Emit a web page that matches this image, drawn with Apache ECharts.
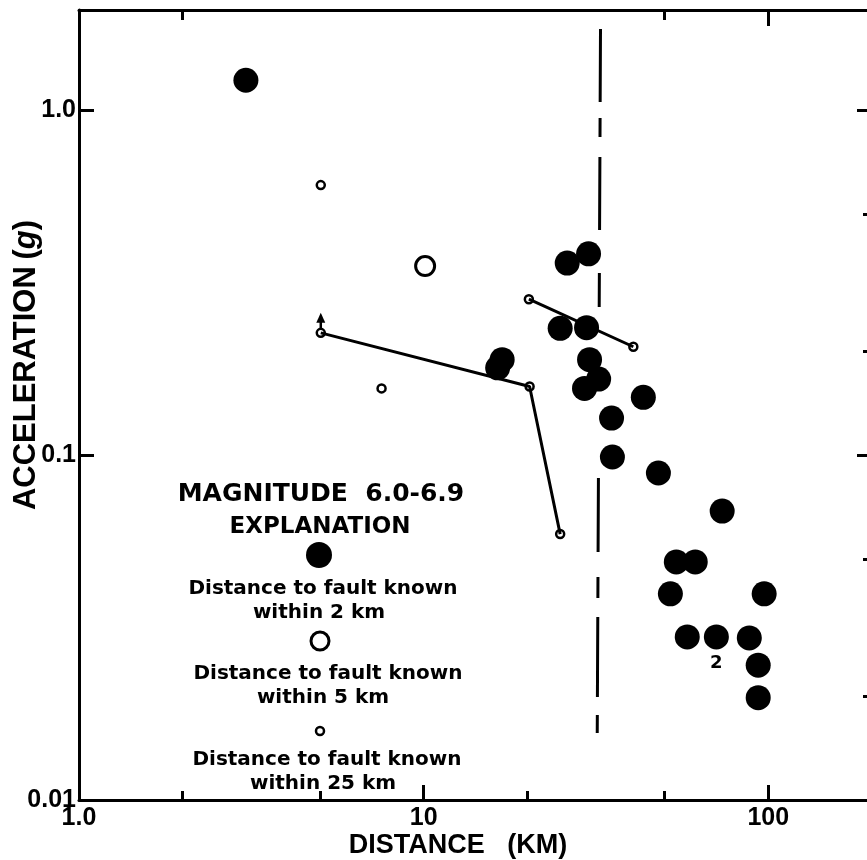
<!DOCTYPE html>
<html lang="en">
<head>
<meta charset="UTF-8">
<title>Acceleration vs distance, magnitude 6.0-6.9</title>
<script src="https://cdn.jsdelivr.net/npm/echarts@6/dist/echarts.min.js"></script>
<style>
  html, body { margin: 0; padding: 0; overflow: hidden; background: #fff; }
  #chart { width: 880px; height: 860px; }
</style>
</head>
<body>
<div id="chart"></div>
<script>
// distance to fault known within 2 km (large filled dots)
var near2Dist = [3.05, 26.1, 30.1, 24.9, 29.7, 16.4, 16.9, 30.3, 32.2, 29.3, 43.4, 35.1,
                 35.3, 48.0, 73.5, 54.1, 61.4, 52.0, 97.3, 58.2, 70.7, 88.1, 93.5, 93.5];
var near2Acc  = [1.22, 0.360, 0.383, 0.233, 0.234, 0.179, 0.189, 0.189, 0.166, 0.156, 0.147, 0.128,
                 0.0987, 0.0887, 0.0688, 0.0490, 0.0490, 0.0396, 0.0396, 0.0297, 0.0297, 0.0295, 0.0246, 0.0198];
var near2Note = ['', '', '', '', '', '', '', '', '', '', '', '',
                 '', '', '', '', '', '', '', '', '2', '', '', ''];
// within 5 km (large open circle)
var near5Dist = [10.1];
var near5Acc  = [0.353];
// within 25 km (small open circles)
var near25Dist = [5.03, 5.03, 7.55, 20.3, 24.9, 20.2, 40.6];
var near25Acc  = [0.606, 0.226, 0.156, 0.158, 0.059, 0.283, 0.206];
// connecting lines
var trendADist = [5.03, 20.3, 24.9];
var trendAAcc  = [0.226, 0.158, 0.059];
var trendBDist = [20.2, 40.6];
var trendBAcc  = [0.283, 0.206];
// arrow above the 5 km point (stem, then head)
var arrowDist = [5.03, 5.03];
var arrowAcc  = [0.233, 0.244];
var arrowHeadDist = [5.03];
var arrowHeadAcc  = [0.250];
// dashed reference line
var refDist = [32.6, 31.9];
var refAcc  = [1.717, 0.01564];
// ticks
var xTickValues = [1, 10, 100];
var xTickLabels = ['1.0', '10', '100'];
var xMinorTicks = [2, 5, 20, 50];
var xTopMinor = [2, 50];
var xTopMajor = [100];
var yTickValues = [0.01, 0.1, 1];
var yTickLabels = ['0.01', '0.1', '1.0'];
var yMinorTicks = [0.02, 0.05, 0.2, 0.5];

function zip(xs, ys) {
  return xs.map(function (x, i) { return [x, ys[i]]; });
}
function pickLabel(values, labels, v) {
  for (var i = 0; i < values.length; i++) {
    if (Math.abs(Math.log10(v) - Math.log10(values[i])) < 0.01) return labels[i];
  }
  return '';
}

var chart = echarts.init(document.getElementById('chart'));
var ink = '#000';
var X_MIN = 1, X_MAX = 200, Y_MIN = 0.01, Y_MAX = 1.95;

function xAx(pos, ticks, len, showLine, labels) {
  return {
    type: 'log', logBase: 10, min: X_MIN, max: X_MAX, position: pos, gridIndex: 0,
    axisLine: { show: showLine, lineStyle: { color: ink, width: 3 } },
    axisTick: { show: true, inside: true, length: len, customValues: ticks, lineStyle: { color: ink, width: 3 } },
    axisLabel: labels ? {
      show: true, customValues: xTickValues, margin: 6, color: ink,
      fontFamily: 'Liberation Sans', fontWeight: 'bold', fontSize: 25,
      formatter: function (v) { return pickLabel(xTickValues, xTickLabels, v); }
    } : { show: false },
    splitLine: { show: false }, minorTick: { show: false }
  };
}
function yAx(pos, ticks, len, showLine, labels) {
  return {
    type: 'log', logBase: 10, min: Y_MIN, max: Y_MAX, position: pos, gridIndex: 0,
    axisLine: { show: showLine, lineStyle: { color: ink, width: 3 } },
    axisTick: { show: true, inside: true, length: len, customValues: ticks, lineStyle: { color: ink, width: 3 } },
    axisLabel: labels ? {
      show: true, customValues: yTickValues, margin: 3, color: ink,
      fontFamily: 'Liberation Sans', fontWeight: 'bold', fontSize: 25,
      formatter: function (v) { return pickLabel(yTickValues, yTickLabels, v); }
    } : { show: false },
    splitLine: { show: false }, minorTick: { show: false }
  };
}

var near2Data = near2Dist.map(function (d, i) {
  var item = { value: [d, near2Acc[i]] };
  if (near2Note[i]) {
    item.label = { show: true, formatter: near2Note[i], position: 'bottom', distance: 5,
      color: ink, fontFamily: 'DejaVu Sans', fontWeight: 'bold', fontSize: 18 };
  }
  return item;
});

var legendFont = 'bold 20px "DejaVu Sans"';
function legendText(x, y, t, font) {
  return { type: 'text', x: x, y: y, style: { text: t, font: font || legendFont, fill: ink, align: 'center', verticalAlign: 'middle' } };
}

chart.setOption({
  animation: false,
  backgroundColor: '#fff',
  grid: { left: 79, right: 8, top: 10, bottom: 60, containLabel: false },
  xAxis: [
    xAx('bottom', xTickValues, 15, true, true),
    xAx('bottom', xMinorTicks, 9, false, false),
    xAx('top', xTopMajor, 16, true, false),
    xAx('top', xTopMinor, 10, false, false)
  ],
  yAxis: [
    yAx('left', yTickValues, 15, true, true),
    yAx('right', yTickValues, 15, true, false),
    yAx('right', yMinorTicks, 9, false, false)
  ],
  series: [
    {
      type: 'line', data: zip(refDist, refAcc), symbol: 'none', silent: true,
      lineStyle: { color: ink, width: 3, type: [73, 16, 19, 20, 73, 43, 34, 171, 74, 25, 21, 19, 80, 18, 18, 200] }
    },
    { type: 'line', data: zip(trendADist, trendAAcc), symbol: 'none', lineStyle: { color: ink, width: 3 } },
    { type: 'line', data: zip(trendBDist, trendBAcc), symbol: 'none', lineStyle: { color: ink, width: 3 } },
    { type: 'line', data: zip(arrowDist, arrowAcc), symbol: 'none', lineStyle: { color: ink, width: 2.5 } },
    {
      type: 'scatter', data: zip(arrowHeadDist, arrowHeadAcc), symbol: 'triangle', symbolSize: [9, 10],
      itemStyle: { color: ink, opacity: 1 }
    },
    {
      type: 'scatter', data: near2Data, symbol: 'circle', symbolSize: 25,
      itemStyle: { color: ink, opacity: 1 }
    },
    {
      type: 'scatter', data: zip(near5Dist, near5Acc), symbol: 'circle', symbolSize: 19,
      itemStyle: { color: '#fff', borderColor: ink, borderWidth: 3, opacity: 1 }
    },
    {
      type: 'scatter', data: zip(near25Dist, near25Acc), symbol: 'circle', symbolSize: 8,
      itemStyle: { color: '#fff', borderColor: ink, borderWidth: 2.5, opacity: 1 }
    }
  ],
  graphic: [
    legendText(321, 494, 'MAGNITUDE  6.0-6.9', 'bold 25px "DejaVu Sans"'),
    legendText(320, 527, 'EXPLANATION', 'bold 23px "DejaVu Sans"'),
    { type: 'circle', shape: { cx: 319, cy: 555, r: 13 }, style: { fill: ink } },
    legendText(323, 589, 'Distance to fault known'),
    legendText(319, 613, 'within 2 km'),
    { type: 'circle', shape: { cx: 320, cy: 641, r: 9 }, style: { fill: '#fff', stroke: ink, lineWidth: 3 } },
    legendText(328, 674, 'Distance to fault known'),
    legendText(323, 698, 'within 5 km'),
    { type: 'circle', shape: { cx: 320, cy: 731, r: 4 }, style: { fill: '#fff', stroke: ink, lineWidth: 2.5 } },
    legendText(327, 760, 'Distance to fault known'),
    legendText(323, 784, 'within 25 km'),
    { type: 'text', x: 458, y: 846, style: { text: 'DISTANCE   (KM)', font: 'bold 27px "Liberation Sans"', fill: ink, align: 'center', verticalAlign: 'middle' } },
    {
      type: 'text', x: 26, y: 365, rotation: Math.PI / 2,
      style: {
        text: '{a|ACCELERATION}  {a|(}{g|g}{a|)}', align: 'center', verticalAlign: 'middle',
        rich: {
          a: { font: 'bold 31px "Liberation Sans"', fill: ink },
          g: { font: 'italic bold 31px "Liberation Sans"', fill: ink }
        }
      }
    }
  ]
});
</script>
</body>
</html>
